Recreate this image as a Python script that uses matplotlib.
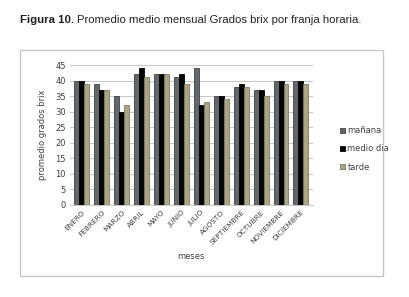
import matplotlib
matplotlib.use("Agg")
import matplotlib.pyplot as plt
import numpy as np
from matplotlib.patches import Rectangle

meses = ["ENERO", "FEBRERO", "MARZO", "ABRIL", "MAYO", "JUNIO", "JULIO",
         "AGOSTO", "SEPTIEMBRE", "OCTUBRE", "NOVIEMBRE", "DICIEMBRE"]
manana = [40, 39, 35, 42, 42, 41, 44, 35, 38, 37, 40, 40]
medio_dia = [40, 37, 30, 44, 42, 42, 32, 35, 39, 37, 40, 40]
tarde = [39, 37, 32, 41, 42, 39, 33, 34, 38, 35, 39, 39]
series_names = ["mañana", "medio dia", "tarde"]
colors = ["#62676b", "#050505", "#aaa685"]
edge_colors = ["#3e4245", "#000000", "#7d7a5f"]
yticks = [0, 5, 10, 15, 20, 25, 30, 35, 40, 45]

plt.rcParams['font.family'] = ['DejaVu Sans']
fig = plt.figure(figsize=(4.09, 2.97), dpi=100)

# outer chart border
fig.patches.append(Rectangle((0.049, 0.071), 0.888, 0.761, transform=fig.transFigure,
                             fill=False, edgecolor="#c8c8c8", linewidth=1.0))

ax = fig.add_axes([0.171, 0.310, 0.594, 0.471])
x = np.arange(len(meses))
w = 0.25
for i, (vals, name) in enumerate(zip([manana, medio_dia, tarde], series_names)):
    ax.bar(x + (i - 1) * w, vals, width=w, color=colors[i], edgecolor=edge_colors[i],
           linewidth=0.6, label=name, zorder=3)

ax.set_ylim(0, 45)
ax.set_xlim(-0.6, len(meses) - 0.4)
ax.set_yticks(yticks)
ax.yaxis.grid(True, color="#c9c9c9", linewidth=0.8, zorder=0)
for s in ["top", "right", "left"]:
    ax.spines[s].set_visible(False)
ax.spines["bottom"].set_color("#c9c9c9")
ax.tick_params(axis="both", length=0, labelsize=6, colors="#404040", pad=3)
ax.set_xticks(x)
ax.set_xticklabels(meses, rotation=45, ha="right", rotation_mode="anchor", fontsize=5.3)
ax.set_ylabel("promedio grados brix", fontsize=6, color="#404040", labelpad=6)
ax.set_xlabel("meses", fontsize=6, color="#404040", labelpad=4)

leg = ax.legend(loc="center left", bbox_to_anchor=(1.08, 0.4), frameon=False,
                fontsize=6, handlelength=0.6, handleheight=0.6, handletextpad=0.3,
                labelspacing=1.1, labelcolor="#404040")

tfam = ["Liberation Sans", "DejaVu Sans"]
tsize = 8.2
t1 = fig.text(0.049, 0.933, "Figura 10.", fontsize=tsize, fontweight="bold", color="#222222",
              family=tfam, va="center")
fig.canvas.draw()
r = fig.canvas.get_renderer()
bb = t1.get_window_extent(renderer=r)
x2 = (bb.x1 + 3) / fig.bbox.width
fig.text(x2, 0.933, "Promedio medio mensual Grados brix por franja horaria.", fontsize=tsize,
         color="#222222", family=tfam, va="center")

fig.savefig("out.png", dpi=100)
